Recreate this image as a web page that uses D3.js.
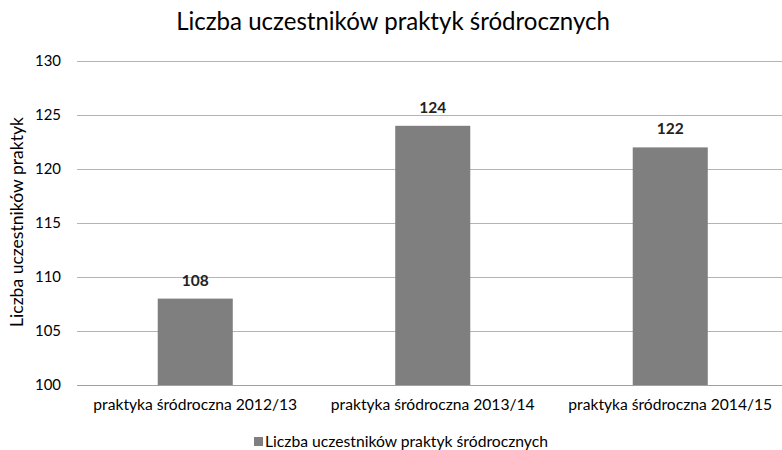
<!DOCTYPE html>
<html><head><meta charset="utf-8">
<script src="https://cdn.jsdelivr.net/npm/d3@7"></script>
<style>body{margin:0;background:#fff;} svg{display:block;font-family:Lato,"Open Sans",sans-serif;}</style>
</head><body><svg id="c" width="782" height="450"></svg>
<script>
const categories = ["praktyka śródroczna 2012/13","praktyka śródroczna 2013/14","praktyka śródroczna 2014/15"];
const values = [108,124,122];
const yTicks = [100,105,110,115,120,125,130];
const title = "Liczba uczestników praktyk śródrocznych";
const yLabel = "Liczba uczestników praktyk";
const seriesName = "Liczba uczestników praktyk śródrocznych";

const svg = d3.select("#c");
function fit(sel, w){ sel.each(function(){ const fs=parseFloat(this.getAttribute("font-size")); const L=this.getComputedTextLength(); if(L>0) this.setAttribute("font-size", (fs*w/L).toFixed(2)); }); }

const x = d3.scaleBand().domain(categories).range([76.5, 789]).paddingInner(0.684).paddingOuter(0.342);
const y = d3.scaleLinear().domain([100,130]).range([385, 61]);

svg.append("text").attr("x", 393).attr("y", 30).attr("text-anchor","middle")
  .attr("font-size", 21).attr("fill","#000").text(title).call(fit, 434);

const yAxis = d3.axisLeft(y).tickValues(yTicks).tickSize(-(782-77)).tickPadding(16);
const gy = svg.append("g").attr("transform","translate(77,0)").call(yAxis);
gy.select(".domain").remove();
gy.selectAll(".tick line").attr("stroke", d => d===100 ? "#a0a0a0" : "#b4b4b4");
gy.selectAll(".tick text").attr("font-size", 14).attr("fill","#000").attr("font-family","Lato").call(fit, 26);

svg.append("g").selectAll("rect").data(values).join("rect")
  .attr("x",(d,i)=>x(categories[i])).attr("width",x.bandwidth())
  .attr("y",d=>y(d)).attr("height",d=>y(100)-y(d)).attr("fill","#7f7f7f");

svg.append("g").selectAll("text").data(values).join("text")
  .attr("x",(d,i)=>x(categories[i])+x.bandwidth()/2).attr("y",d=>y(d)-13)
  .attr("text-anchor","middle").attr("font-size",14).attr("font-weight","bold").attr("fill","#222").text(d=>d).call(fit, 27);

const xAxis = d3.axisBottom(x).tickSize(0).tickPadding(14);
const gx = svg.append("g").attr("transform","translate(0,385)").call(xAxis);
gx.select(".domain").remove();
gx.selectAll(".tick text").attr("font-size",14).attr("fill","#000").attr("font-family","Lato").call(fit, 204);

svg.append("text").attr("transform","translate(23,222) rotate(-90)").attr("text-anchor","middle")
  .attr("font-size",14).attr("fill","#000").text(yLabel).call(fit, 210);

const lg = svg.append("g");
lg.append("rect").attr("x",254).attr("y",437).attr("width",9).attr("height",9).attr("fill","#7f7f7f");
lg.append("text").attr("x",265).attr("y",447).attr("font-size",14).attr("fill","#000").text(seriesName).call(fit, 283);
</script></body></html>
